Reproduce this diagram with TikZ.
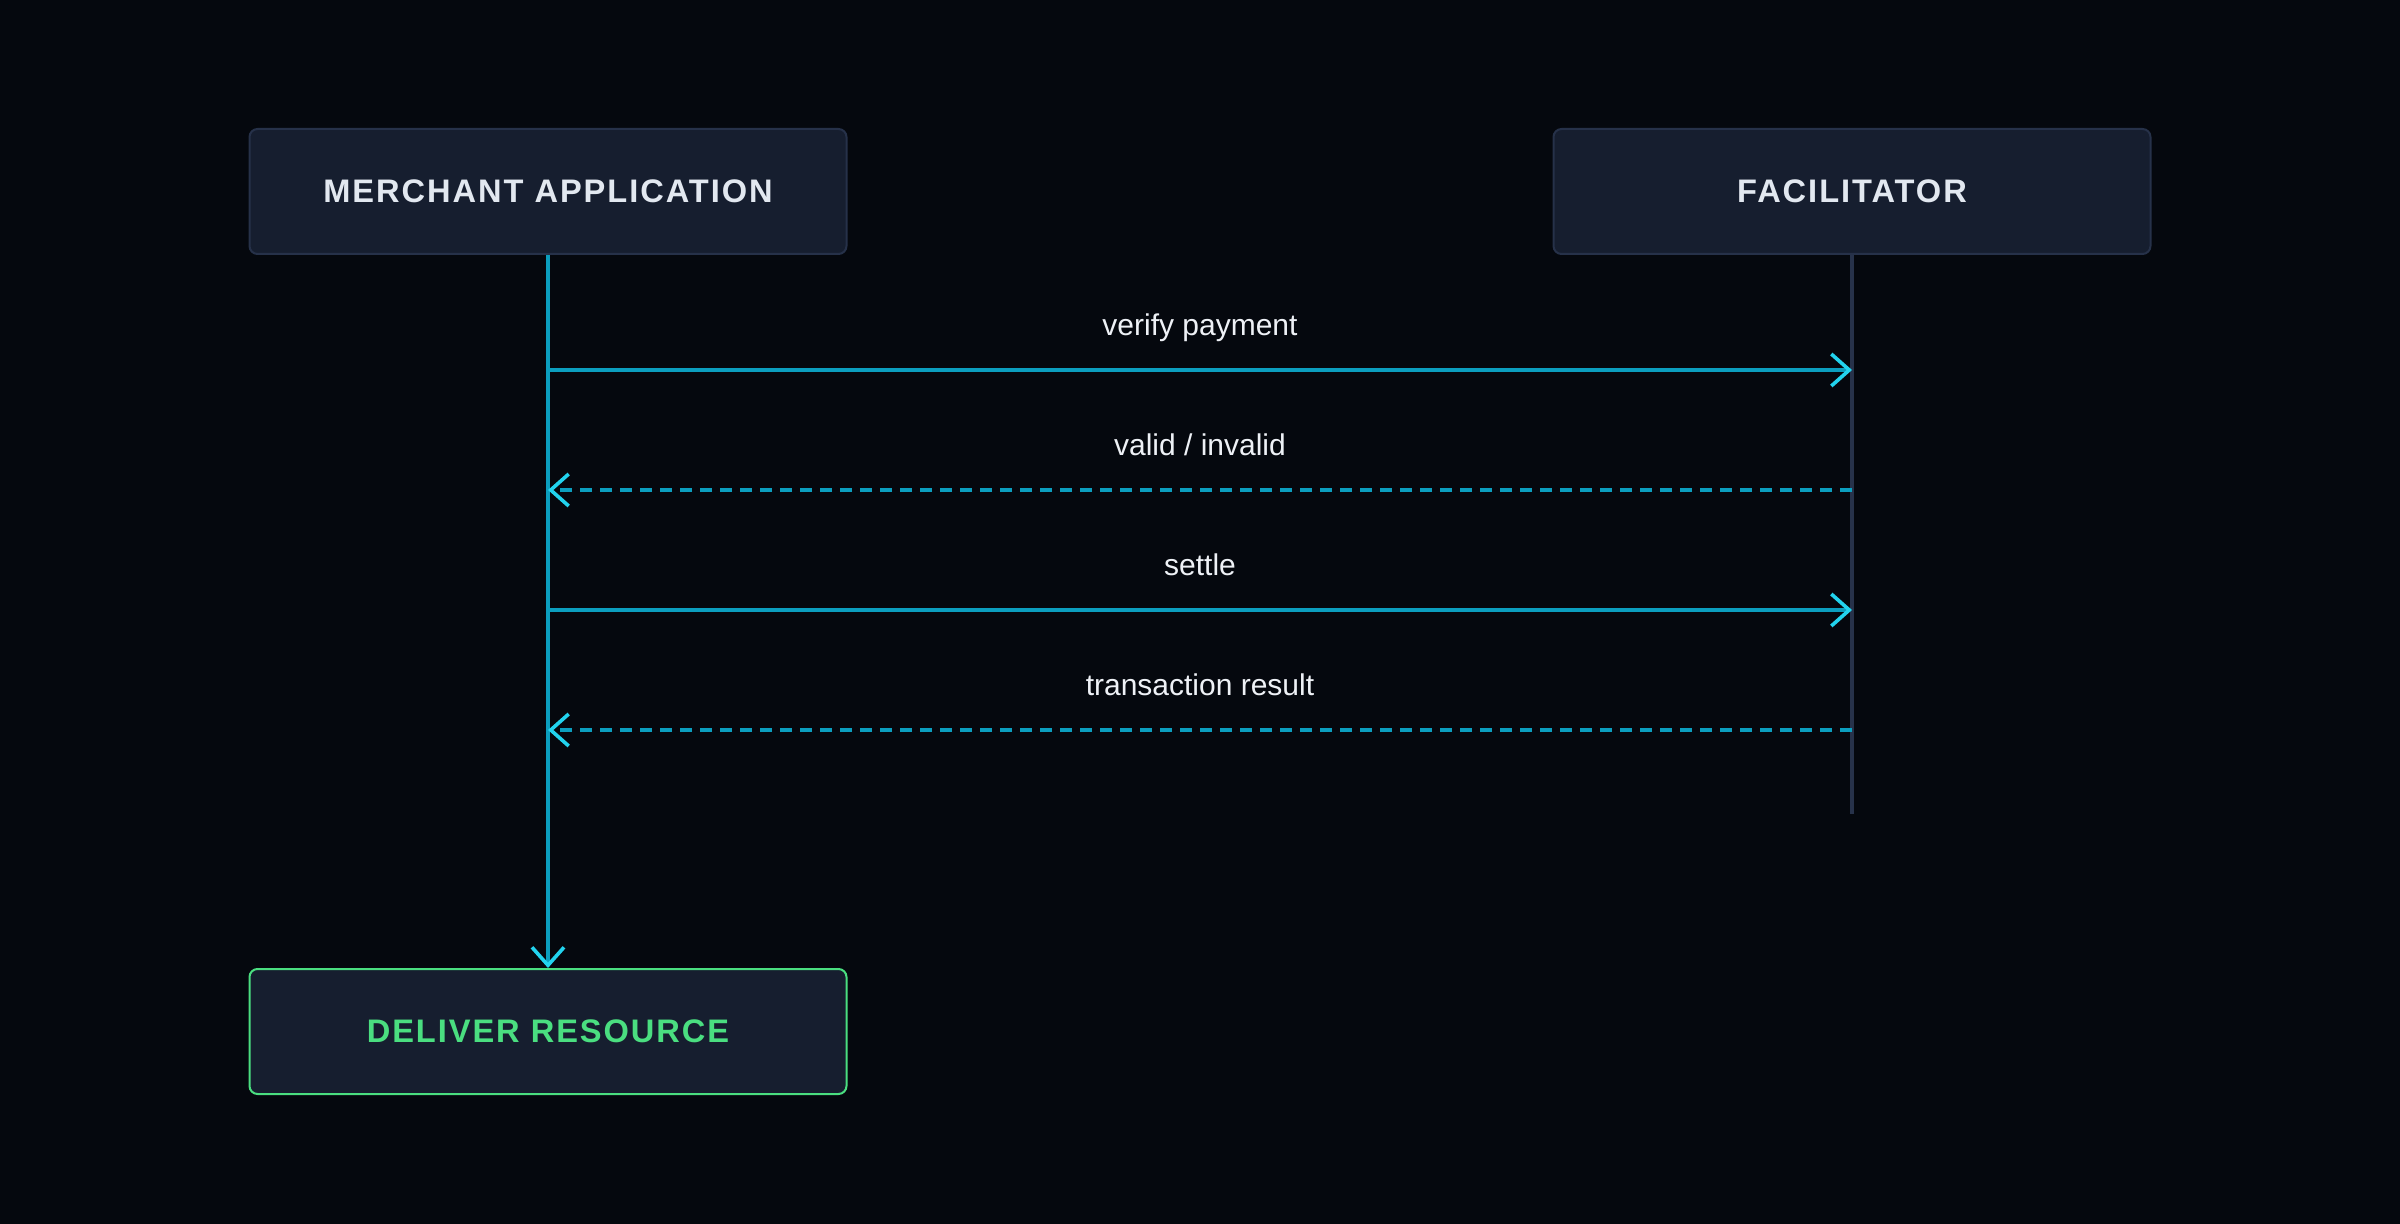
\documentclass[tikz,border=0pt]{standalone}
\usepackage{fontspec}
\setmainfont{Liberation Sans}
\newfontfamily\headfont[LetterSpace=6]{Liberation Sans}
\usetikzlibrary{arrows.meta}

\definecolor{bg}{HTML}{05080E}
\definecolor{boxfill}{HTML}{161E2F}
\definecolor{boxline}{HTML}{263149}
\definecolor{headtext}{HTML}{E2E8F0}
\definecolor{msgtext}{HTML}{EEF1F6}
\definecolor{flow}{HTML}{0B9EBE}
\definecolor{tip}{HTML}{22D3EE}
\definecolor{life}{HTML}{27324A}
\definecolor{ok}{HTML}{4ADE80}

\begin{document}
\begin{tikzpicture}[x=0.5pt, y=-0.5pt]
	\tikzstyle{actor}=[draw=boxline, fill=boxfill, rounded corners=4pt, line width=1pt,
		minimum width=298.5pt, minimum height=62.5pt, text=headtext,
		font=\headfont\bfseries\fontsize{16.3}{20}\selectfont]
	\tikzstyle{msg}=[text=msgtext, anchor=base, font=\fontsize{15}{18}\selectfont]
	\tikzstyle{call}=[draw=flow, line width=1.8pt,
		-{Straight Barb[length=9pt, width=16pt, line width=1.8pt, color=tip]}]
	\tikzstyle{reply}=[call, dash pattern=on 6pt off 4pt]
	
		\fill[bg] (0,0) rectangle (2400,1224);
		\useasboundingbox (0,0) rectangle (2400,1224);
		
		\node[actor] (merch) at (548,191.5) {MERCHANT APPLICATION};
		\node[actor] (fac) at (1852,191.5) {FACILITATOR};
		\node[actor, draw=ok, text=ok] (deliver) at (548,1031.5) {DELIVER RESOURCE};
		
		\coordinate (facend) at (1852,814);
		
		\coordinate (m1) at (548,370);
		\coordinate (f1) at (1852,370);
		\coordinate (m2) at (548,490);
		\coordinate (f2) at (1852,490);
		\coordinate (m3) at (548,610);
		\coordinate (f3) at (1852,610);
		\coordinate (m4) at (548,730);
		\coordinate (f4) at (1852,730);
		
		\node[msg] (t1) at (1200,336) {verify payment};
		\node[msg] (t2) at (1200,456) {valid / invalid};
		\node[msg] (t3) at (1200,576) {settle};
		\node[msg] (t4) at (1200,696) {transaction result};
		
		%========================================================================
		% Lifelines
		\draw[draw=life, line width=2pt] (fac.south) to (facend);
		\draw[call] (merch.south) to (deliver.north);
		
		%========================================================================
		% Arrows
		\draw[call] (m1) to (f1);
		\draw[reply] (f2) to (m2);
		\draw[call] (m3) to (f3);
		\draw[reply] (f4) to (m4);
	\end{tikzpicture}
\end{document}
